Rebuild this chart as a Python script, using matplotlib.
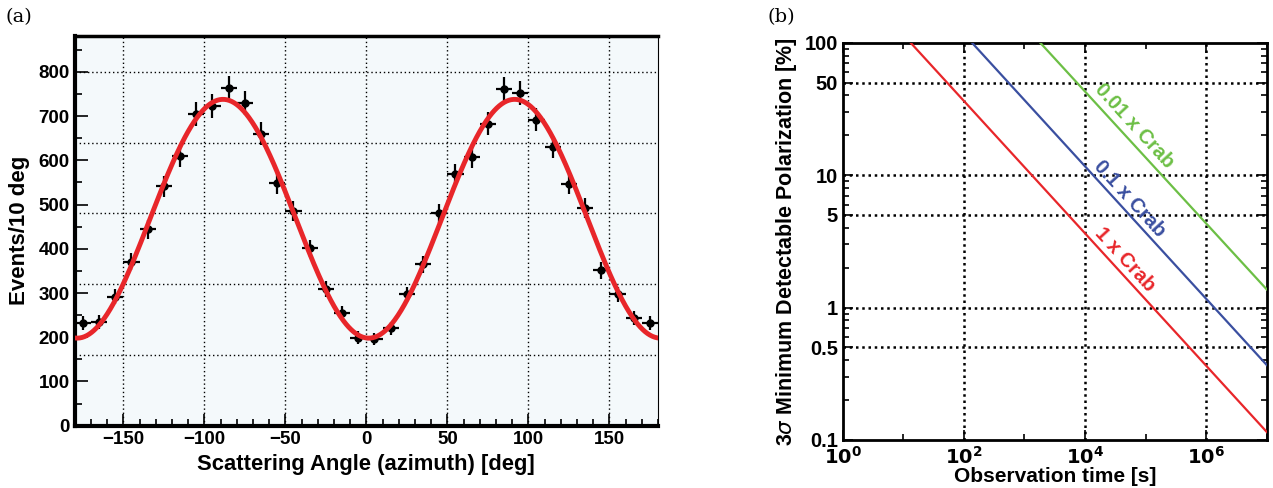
import matplotlib.pyplot as plt
import matplotlib.ticker as ticker
import numpy as np

plt.rcParams['font.family'] = ['Liberation Sans', 'DejaVu Sans']

# (a) modulation curve
bin_centers = [-175, -165, -155, -145, -135, -125, -115, -105, -95, -85,
               -75, -65, -55, -45, -35, -25, -15, -5, 5, 15,
               25, 35, 45, 55, 65, 75, 85, 95, 105, 115,
               125, 135, 145, 155, 165, 175]
events = [232, 234, 292, 371, 444, 541, 609, 705, 723, 763,
          729, 660, 548, 486, 401, 309, 255, 199, 196, 220,
          297, 365, 480, 569, 607, 683, 761, 753, 692, 630,
          547, 492, 351, 297, 243, 232]
bin_half_width = 5
# fit: N = offset - amp * cos(2 (phi - phi0))
fit_offset = 468
fit_amp = 270
fit_phi0 = 1.5

# (b) 3 sigma MDP vs observation time (straight lines in log-log)
crab_labels = ['1 x Crab', '0.1 x Crab', '0.01 x Crab']
crab_colors = ['#e8262a', '#3a4fa0', '#6cbf45']
obs_time = [[13.2, 1e7], [136, 1e7], [1820, 1e7]]
mdp = [[100, 0.115], [100, 0.368], [100, 1.37]]
label_pos = [(10**4.66, 10**0.36), (10**4.73, 10**0.82), (10**4.81, 10**1.37)]

fig = plt.figure(figsize=(12.73, 4.88), dpi=100)

# ---------- panel (a)
ax1 = fig.add_axes([0.0587, 0.1277, 0.4582, 0.7992])
ax1.set_facecolor('#f4f9fb')
phi = np.linspace(-180, 180, 721)
fit = fit_offset - fit_amp * np.cos(np.radians(2 * (phi - fit_phi0)))
ax1.errorbar(bin_centers, events, xerr=bin_half_width, yerr=np.sqrt(events),
             fmt='o', color='black', ms=5, elinewidth=1.6, capsize=0, zorder=3)
ax1.plot(phi, fit, color='#e8262a', lw=3.5, zorder=4)
ax1.set_xlim(-180, 180)
ax1.set_ylim(0, 882)
ax1.set_xticks([-150, -100, -50, 0, 50, 100, 150])
ax1.xaxis.set_minor_locator(ticker.MultipleLocator(10))
ax1.set_yticks(range(0, 900, 100))
ax1.yaxis.set_minor_locator(ticker.MultipleLocator(50))
for v in [-150, -100, -50, 0, 50, 100, 150]:
    ax1.axvline(v, color='black', ls=(0, (1, 2)), lw=1.0, zorder=1)
for v in [160, 320, 480, 640, 800]:
    ax1.axhline(v, color='black', ls=(0, (1, 2)), lw=1.0, zorder=1)
ax1.tick_params(which='both', direction='in', top=False, right=False,
                labelsize=13.5, width=1.2)
ax1.tick_params(which='major', length=9)
ax1.tick_params(which='minor', length=5)
for lbl in ax1.get_xticklabels() + ax1.get_yticklabels():
    lbl.set_fontweight('bold')
ax1.spines['left'].set_linewidth(3)
ax1.spines['bottom'].set_linewidth(3)
ax1.spines['top'].set_linewidth(2.5)
ax1.spines['right'].set_linewidth(0.8)
ax1.set_xlabel('Scattering Angle (azimuth) [deg]', fontsize=15.8, fontweight='bold', labelpad=5)
ax1.set_ylabel('Events/10 deg', fontsize=16, fontweight='bold', labelpad=6)

# ---------- panel (b)
ax2 = fig.add_axes([0.662, 0.0984, 0.3331, 0.8141])
for t, m, c in zip(obs_time, mdp, crab_colors):
    ax2.plot(t, m, color=c, lw=1.6, zorder=3)
ax2.set_xscale('log')
ax2.set_yscale('log')
ax2.set_xlim(1, 1e7)
ax2.set_ylim(0.1, 100)
ax2.set_xticks([1, 1e2, 1e4, 1e6])
ax2.set_xticklabels([r'$\mathbf{10^{0}}$', r'$\mathbf{10^{2}}$', r'$\mathbf{10^{4}}$', r'$\mathbf{10^{6}}$'])
ax2.xaxis.set_minor_locator(ticker.FixedLocator([10, 1e3, 1e5, 1e7]))
ax2.xaxis.set_minor_formatter(ticker.NullFormatter())
ax2.set_yticks([0.1, 0.5, 1, 5, 10, 50, 100])
ax2.set_yticklabels(['0.1', '0.5', '1', '5', '10', '50', '100'])
ax2.yaxis.set_minor_locator(ticker.LogLocator(base=10, subs=np.arange(2, 10)))
ax2.yaxis.set_minor_formatter(ticker.NullFormatter())
for v in [1e2, 1e4, 1e6]:
    ax2.axvline(v, color='black', ls=(0, (1, 1.5)), lw=1.8, zorder=1)
for v in [0.5, 1, 5, 10, 50]:
    ax2.axhline(v, color='black', ls=(0, (1, 1.5)), lw=1.8, zorder=1)
ax2.tick_params(which='both', direction='in', top=True, right=True, width=1.2)
ax2.tick_params(which='major', length=7, labelsize=14.5)
ax2.tick_params(which='minor', length=4)
ax2.tick_params(axis='x', which='major', labelsize=14, pad=4)
for lbl in ax2.get_yticklabels():
    lbl.set_fontweight('bold')
for s in ax2.spines.values():
    s.set_linewidth(2)
ax2.set_xlabel('Observation time [s]', fontsize=15, fontweight='bold', labelpad=0)
ax2.set_ylabel(r'3$\sigma$ Minimum Detectable Polarization [%]', fontsize=15.5,
               fontweight='bold', labelpad=4)
for lab, c, (tx, ty) in zip(crab_labels, crab_colors, label_pos):
    ax2.text(tx, ty, lab, color=c, fontsize=14.5, fontweight='bold', rotation=-47.5,
             rotation_mode='anchor', ha='center', va='center', zorder=4)

fig.text(0.004, 0.955, '(a)', fontsize=14, family='DejaVu Serif')
fig.text(0.603, 0.955, '(b)', fontsize=14, family='DejaVu Serif')

fig.savefig('out.png', dpi=100)
